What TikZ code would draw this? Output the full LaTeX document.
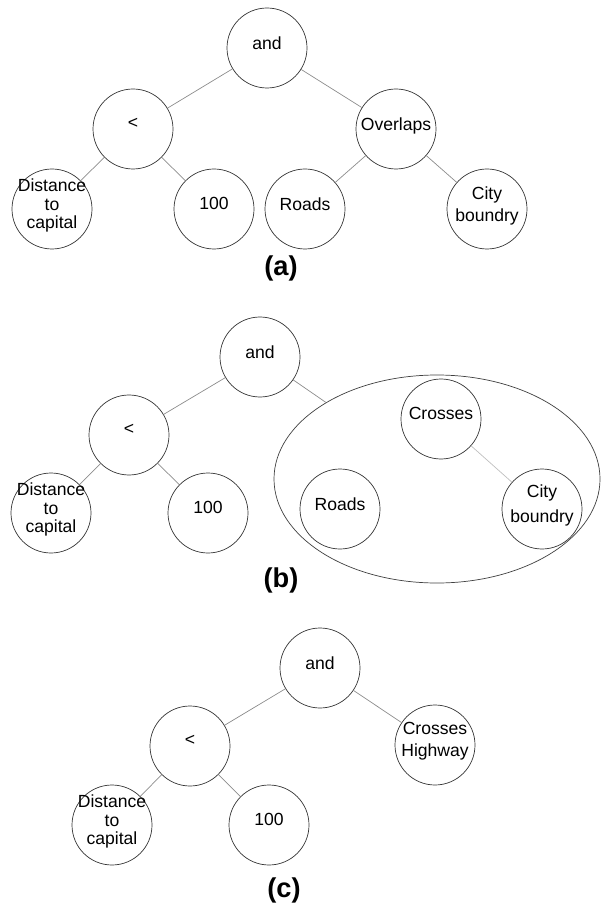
\documentclass[tikz,border=0pt]{standalone}
\usepackage{fontspec}
\setmainfont{Liberation Sans}
\usetikzlibrary{shapes.geometric}
\begin{document}
\begin{tikzpicture}[
  op/.style={circle,draw=black!80,line width=0.4pt,minimum size=1.6cm,inner sep=-4pt,align=center,text depth=6pt,font=\fontsize{10}{10.5}\selectfont},
  edge/.style={draw=black!45,line width=0.4pt},
  caption/.style={font=\fontsize{15.5}{18}\selectfont\bfseries}]
\useasboundingbox (0,0) rectangle (12,-18.08);
% (a)
\node [op] (a-and) at (5.34,-0.96) {and};
\node [op] (a-lt) at (2.66,-2.58) {<};
\node [op] (a-ovl) at (7.92,-2.58) {Overlaps};
\node [op] (a-dist) at (1.04,-4.18) {Distance\\to\\capital};
\node [op] (a-100) at (4.28,-4.18) {100};
\node [op] (a-roads) at (6.10,-4.18) {Roads};
\node [op] (a-city) at (9.74,-4.18) {City\\[2pt]boundry};
\draw [edge] (a-and) -- (a-lt);
\draw [edge] (a-and) -- (a-ovl);
\draw [edge] (a-lt) -- (a-dist);
\draw [edge] (a-lt) -- (a-100);
\draw [edge] (a-ovl) -- (a-roads);
\draw [edge] (a-ovl) -- (a-city);
\node [caption] (a-cap) at (5.62,-5.36) {(a)};
% (b)
\node [ellipse,draw=black!75,line width=0.4pt,minimum width=6.52cm,minimum height=4.16cm] (b-grp) at (8.74,-9.58) {};
\node [op] (b-and) at (5.20,-7.14) {and};
\node [op] (b-lt) at (2.58,-8.70) {<};
\node [op] (b-dist) at (1.02,-10.26) {Distance\\to\\capital};
\node [op] (b-100) at (4.16,-10.26) {100};
\node [op] (b-cross) at (8.82,-8.38) {Crosses};
\node [op] (b-roads) at (6.80,-10.18) {Roads};
\node [op] (b-city) at (10.84,-10.18) {City\\[4pt]boundry};
\draw [edge] (b-and) -- (b-lt);
\draw [edge] (b-and) -- (b-grp);
\draw [edge] (b-lt) -- (b-dist);
\draw [edge] (b-lt) -- (b-100);
\draw [edge,draw=black!25] (b-cross) -- (b-city);
\node [caption] (b-cap) at (5.62,-11.60) {(b)};
% (c)
\node [op] (c-and) at (6.40,-13.36) {and};
\node [op] (c-lt) at (3.80,-14.92) {<};
\node [op] (c-crhw) at (8.70,-14.90) {Crosses\\[2pt]Highway};
\node [op] (c-dist) at (2.24,-16.50) {Distance\\to\\capital};
\node [op] (c-100) at (5.38,-16.50) {100};
\draw [edge] (c-and) -- (c-lt);
\draw [edge] (c-and) -- (c-crhw);
\draw [edge] (c-lt) -- (c-dist);
\draw [edge] (c-lt) -- (c-100);
\node [caption] (c-cap) at (5.68,-17.80) {(c)};
\end{tikzpicture}
\end{document}
